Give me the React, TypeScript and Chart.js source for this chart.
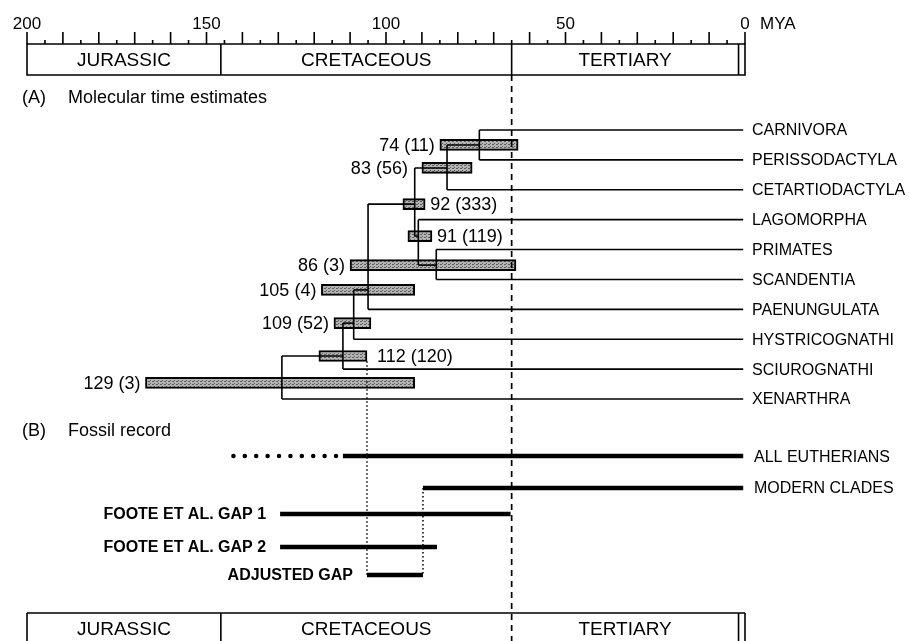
import React, { useEffect, useRef } from "react";
import { Chart, registerables } from "chart.js";

Chart.register(...registerables);

// ---------------- data ----------------
const axisTickLabels = [200, 150, 100, 50, 0];
const axisUnit = "MYA";

const periodNames = ["JURASSIC", "CRETACEOUS", "TERTIARY"];
const periodStart = [200, 146, 65];
const periodEnd = [146, 65, 1.8];
const presentAge = 0;

const taxa = [
  "CARNIVORA",
  "PERISSODACTYLA",
  "CETARTIODACTYLA",
  "LAGOMORPHA",
  "PRIMATES",
  "SCANDENTIA",
  "PAENUNGULATA",
  "HYSTRICOGNATHI",
  "SCIUROGNATHI",
  "XENARTHRA",
];
const taxaRows = [0, 1, 2, 3, 4, 5, 6, 7, 8, 9];
const tipAge = 0.5;

const nodeIds = ["n74", "n83", "n92", "n91", "n86", "n105", "n109", "n112", "n129"];
const nodeAges = [74, 83, 92, 91, 86, 105, 109, 112, 129];
const nodeGenes = [11, 56, 333, 119, 3, 4, 52, 120, 3];
const nodeCiOld = [85, 90, 95.3, 93.9, 110, 118, 114.5, 118.7, 167];
const nodeCiYoung = [63.2, 76, 89.1, 87.2, 63.8, 92, 104.2, 105.3, 92];
const nodeRows = [0.5, 1.27, 2.48, 3.55, 4.52, 5.35, 6.46, 7.56, 8.46];
const nodeChildA = ["CARNIVORA", "n74", "n83", "LAGOMORPHA", "PRIMATES", "n92", "n105", "n109", "n112"];
const nodeChildB = [
  "PERISSODACTYLA",
  "CETARTIODACTYLA",
  "n91",
  "n86",
  "SCANDENTIA",
  "PAENUNGULATA",
  "HYSTRICOGNATHI",
  "SCIUROGNATHI",
  "XENARTHRA",
];
const nodeLabelSide = ["left", "left", "right", "right", "left", "left", "left", "right", "left"];

const fossilNames = ["ALL EUTHERIANS", "MODERN CLADES", "FOOTE ET AL. GAP 1", "FOOTE ET AL. GAP 2", "ADJUSTED GAP"];
const fossilStart = [112, 89.7, 129.5, 129.5, 105.3];
const fossilEnd = [0.5, 0.5, 65.3, 85.8, 89.7];
const fossilRows = [10.91, 11.98, 12.85, 13.95, 14.89];
const fossilLabelAtRight = [true, true, false, false, false];
const eutherianGhostStart = 142.5;
const eutherianGhostEnd = 113.5;
const ktBoundary = 65;

const headingA = ["(A)", "Molecular time estimates"];
const headingB = ["(B)", "Fossil record"];

// ---------------- layout / style ----------------
const W = 909;
const H = 641;
const PAD_LEFT = 27;
const PAD_RIGHT = 164;
const Y_MIN = -4.349;
const Y_MAX = 17.096;
const AXIS_Y = 44;
const TOP_BOX_BOTTOM = 75;
const BOTTOM_BOX_TOP = 613;
const KT_TOP_ROW = -1.84;
const ADJ_DOT_TOP_ROW = 7.74;
const FONT = '"Liberation Sans", Arial, Helvetica, sans-serif';
const nodeLabelGap: Record<string, number> = { n83: 14, n112: 10 };

function rowOf(id: string): number {
  const t = taxa.indexOf(id);
  return t >= 0 ? taxaRows[t] : nodeRows[nodeIds.indexOf(id)];
}
function endOf(id: string): number {
  return taxa.includes(id) ? tipAge : nodeAges[nodeIds.indexOf(id)];
}

function lineDs(data: { x: number; y: number }[], extra: any = {}) {
  return {
    type: "line",
    data,
    borderColor: "#000",
    borderWidth: 1.6,
    pointRadius: 0,
    pointHoverRadius: 0,
    fill: false,
    tension: 0,
    order: 0,
    ...extra,
  };
}

function makeStipple(): CanvasPattern | string {
  const c = document.createElement("canvas");
  c.width = 4;
  c.height = 3;
  const g = c.getContext("2d");
  if (!g) return "#a0a0a0";
  g.fillStyle = "#b4b4b4";
  g.fillRect(0, 0, 4, 3);
  g.fillStyle = "#5e5e5e";
  g.fillRect(0, 0, 2, 1);
  g.fillRect(2, 2, 1, 1);
  const p = g.createPattern(c, "repeat");
  return p || "#a0a0a0";
}

export default function App() {
  const ref = useRef<HTMLCanvasElement>(null);

  useEffect(() => {
    const canvas = ref.current;
    if (!canvas) return;

    const datasets: any[] = [];

    // tree branches
    nodeIds.forEach((id, i) => {
      const age = nodeAges[i];
      const a = nodeChildA[i];
      const b = nodeChildB[i];
      datasets.push(lineDs([{ x: age, y: rowOf(a) }, { x: age, y: rowOf(b) }]));
      [a, b].forEach((c) => {
        datasets.push(lineDs([{ x: age, y: rowOf(c) }, { x: endOf(c), y: rowOf(c) }]));
      });
    });

    // confidence bars
    datasets.push({
      type: "bar",
      indexAxis: "y",
      data: nodeIds.map((_, i) => ({ x: [nodeCiOld[i], nodeCiYoung[i]], y: nodeRows[i] })),
      backgroundColor: makeStipple(),
      borderColor: "#000",
      borderWidth: 2,
      borderSkipped: false,
      barThickness: 11,
      order: 1,
    });

    // fossil record lines
    fossilNames.forEach((_, i) => {
      datasets.push(
        lineDs(
          [
            { x: fossilStart[i], y: fossilRows[i] },
            { x: fossilEnd[i], y: fossilRows[i] },
          ],
          { borderWidth: 4.5 }
        )
      );
    });
    // ghost lineage (dotted) for all eutherians
    datasets.push(
      lineDs(
        [
          { x: eutherianGhostStart, y: fossilRows[0] },
          { x: eutherianGhostEnd, y: fossilRows[0] },
        ],
        { borderWidth: 4.5, borderDash: [0, 11.4], borderCapStyle: "round" }
      )
    );
    // dotted connectors of adjusted gap
    datasets.push(
      lineDs(
        [
          { x: fossilStart[4], y: ADJ_DOT_TOP_ROW },
          { x: fossilStart[4], y: fossilRows[4] },
        ],
        { borderWidth: 1.5, borderDash: [1.5, 2.5] }
      )
    );
    datasets.push(
      lineDs(
        [
          { x: fossilEnd[4], y: fossilRows[1] },
          { x: fossilEnd[4], y: fossilRows[4] },
        ],
        { borderWidth: 1.5, borderDash: [1.5, 2.5] }
      )
    );
    // K/T boundary dashed
    datasets.push(
      lineDs(
        [
          { x: ktBoundary, y: KT_TOP_ROW },
          { x: ktBoundary, y: Y_MAX },
        ],
        { borderWidth: 1.7, borderDash: [6, 5] }
      )
    );

    const decor = {
      id: "decor",
      beforeDraw(chart: any) {
        const ctx = chart.ctx;
        ctx.save();
        ctx.fillStyle = "#fff";
        ctx.fillRect(0, 0, chart.width, chart.height);
        ctx.restore();
      },
      afterDatasetsDraw(chart: any) {
        const ctx: CanvasRenderingContext2D = chart.ctx;
        const xs = chart.scales.x;
        const ys = chart.scales.y;
        const X = (v: number) => xs.getPixelForValue(v);
        const Y = (r: number) => ys.getPixelForValue(r);
        ctx.save();
        ctx.strokeStyle = "#000";
        ctx.fillStyle = "#000";
        ctx.lineWidth = 1.6;

        // top axis ticks
        ctx.beginPath();
        for (let v = 0; v <= 200; v += 5) {
          const len = v % 10 === 0 ? 12 : 4;
          const px = X(v);
          ctx.moveTo(px, AXIS_Y);
          ctx.lineTo(px, AXIS_Y - len);
        }
        ctx.stroke();
        ctx.font = `17px ${FONT}`;
        ctx.textAlign = "center";
        ctx.textBaseline = "middle";
        axisTickLabels.forEach((v) => ctx.fillText(String(v), X(v), AXIS_Y - 20));
        ctx.textAlign = "left";
        ctx.fillText(axisUnit, X(presentAge) + 15, AXIS_Y - 20);

        // top period box
        ctx.beginPath();
        ctx.rect(X(200), AXIS_Y, X(presentAge) - X(200), TOP_BOX_BOTTOM - AXIS_Y);
        periodEnd.forEach((e) => {
          ctx.moveTo(X(e), AXIS_Y);
          ctx.lineTo(X(e), TOP_BOX_BOTTOM);
        });
        ctx.stroke();

        // bottom period box
        ctx.beginPath();
        ctx.moveTo(X(200), BOTTOM_BOX_TOP);
        ctx.lineTo(X(presentAge), BOTTOM_BOX_TOP);
        [200, periodEnd[0], periodEnd[2], presentAge].forEach((e) => {
          ctx.moveTo(X(e), BOTTOM_BOX_TOP);
          ctx.lineTo(X(e), H + 2);
        });
        ctx.stroke();

        ctx.font = `19px ${FONT}`;
        ctx.textAlign = "center";
        periodNames.forEach((n, i) => {
          const cx = (X(periodStart[i]) + X(periodEnd[i])) / 2;
          ctx.fillText(n, cx, (AXIS_Y + TOP_BOX_BOTTOM) / 2 + 1);
          ctx.fillText(n, cx, BOTTOM_BOX_TOP + 17);
        });

        // headings
        ctx.font = `18px ${FONT}`;
        ctx.textAlign = "left";
        ctx.fillText(headingA[0], 22, 98);
        ctx.fillText(headingA[1], 68, 98);
        ctx.fillText(headingB[0], 22, 431);
        ctx.fillText(headingB[1], 68, 431);

        // node labels
        ctx.font = `18px ${FONT}`;
        nodeIds.forEach((id, i) => {
          const txt = `${nodeAges[i]} (${nodeGenes[i]})`;
          const gap = nodeLabelGap[id] ?? 5;
          const y = Y(nodeRows[i]) + 1;
          if (nodeLabelSide[i] === "left") {
            ctx.textAlign = "right";
            ctx.fillText(txt, X(nodeCiOld[i]) - gap, y);
          } else {
            ctx.textAlign = "left";
            ctx.fillText(txt, X(nodeCiYoung[i]) + gap, y);
          }
        });

        // taxa labels
        ctx.font = `16px ${FONT}`;
        ctx.textAlign = "left";
        taxa.forEach((t, i) => ctx.fillText(t, X(presentAge) + 7, Y(taxaRows[i]) + 1));

        // fossil labels
        fossilNames.forEach((n, i) => {
          const y = Y(fossilRows[i]) + 1;
          if (fossilLabelAtRight[i]) {
            ctx.font = `16px ${FONT}`;
            ctx.textAlign = "left";
            ctx.fillText(n, X(presentAge) + 9, y);
          } else {
            ctx.font = `bold 16px ${FONT}`;
            ctx.textAlign = "right";
            ctx.fillText(n, X(fossilStart[i]) - 14, y);
          }
        });

        ctx.restore();
      },
    };

    const chart = new Chart(canvas, {
      type: "scatter",
      data: { datasets },
      options: {
        animation: false,
        responsive: false,
        maintainAspectRatio: false,
        layout: { padding: { left: PAD_LEFT, right: PAD_RIGHT, top: 0, bottom: 0 } },
        scales: {
          x: { type: "linear", min: 0, max: 200, reverse: true, display: false, offset: false, grid: { offset: false } },
          y: { type: "linear", min: Y_MIN, max: Y_MAX, reverse: true, display: false, offset: false, grid: { offset: false } },
        },
        plugins: {
          legend: { display: false },
          tooltip: { enabled: false },
          title: { display: false },
        },
        events: [],
      },
      plugins: [decor],
    } as any);

    return () => chart.destroy();
  }, []);

  return (
    <div style={{ position: "absolute", left: 0, top: 0, width: W, height: H, background: "#fff" }}>
      <canvas ref={ref} width={W} height={H} style={{ display: "block", width: W, height: H }} />
    </div>
  );
}
